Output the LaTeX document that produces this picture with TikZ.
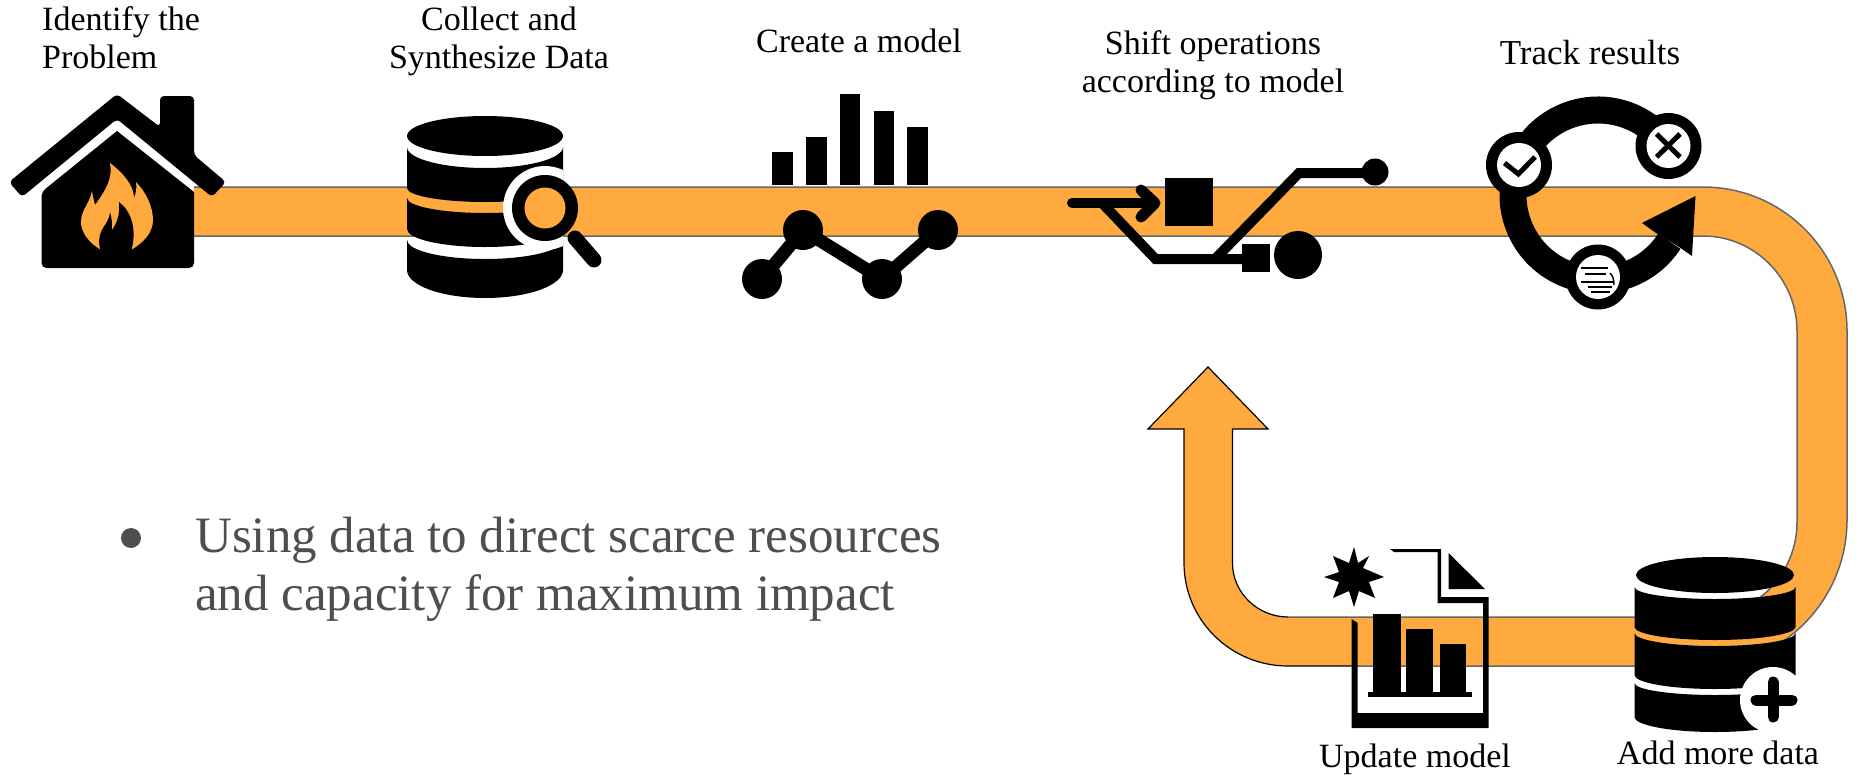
\documentclass[tikz,border=0pt]{standalone}
\usepackage{fontspec}
\setmainfont{Liberation Serif}
\definecolor{bandc}{HTML}{FFAA3F}
\definecolor{edgec}{HTML}{666666}
\definecolor{bullc}{HTML}{4E4E4E}
\newcommand{\dblayer}[6]{% cx rx ytop sagtop ybot sagbot
  \fill (#1-#2,#3) arc[start angle=180,end angle=0,x radius=#2,y radius=#4]
    -- (#1+#2,#5) arc[start angle=0,end angle=180,x radius=#2,y radius=#6] -- cycle;}
\tikzset{
  x=1pt,y=-1pt,
  lab/.style={font=\fontsize{34}{38}\selectfont,inner sep=0pt,anchor=base},
  labw/.style={lab,anchor=base west},
  body/.style={font=\fontsize{51}{58}\selectfont,inner sep=0pt,anchor=base west,text=bullc},
  iconline/.style={line width=11pt,line cap=round,line join=round},
  bandedge/.style={draw=edgec,line width=1.5pt},
  bandedgek/.style={draw=black,line width=1.2pt,line join=miter},
}
\begin{document}
\begin{tikzpicture}
\useasboundingbox (0,0) rectangle (1861,774);
% band
\fill[bandc] (194,187) -- (1703,187) .. controls (1782.5,187) and (1847,251.5) .. (1847,331)
  -- (1847,520) .. controls (1847,600) and (1782.5,666) .. (1703,666)
  -- (1288,666) .. controls (1230.6,666) and (1184,620) .. (1184,563)
  -- (1184,429) -- (1148,429) -- (1208,367) -- (1268,429) -- (1232.5,429)
  -- (1232.5,563) .. controls (1232.5,593) and (1258,617) .. (1288,617)
  -- (1703,617) .. controls (1755,617) and (1797,574) .. (1797,522)
  -- (1797,331) .. controls (1797,279) and (1755,236) .. (1703,236)
  -- (194,236) -- cycle;
\draw[bandedge] (194,187) -- (1703,187) .. controls (1782.5,187) and (1847,251.5) .. (1847,331)
  -- (1847,520) .. controls (1847,600) and (1782.5,666) .. (1703,666) -- (1351,666);
\draw[bandedge] (194,236) -- (1703,236) .. controls (1755,236) and (1797,279) .. (1797,331)
  -- (1797,522) .. controls (1797,574) and (1755,617) .. (1703,617) -- (1288,617);
\draw[bandedgek] (1351,666) -- (1288,666) .. controls (1230.6,666) and (1184,620) .. (1184,563)
  -- (1184,429) -- (1148,429) -- (1208,367) -- (1268,429) -- (1232.5,429)
  -- (1232.5,563) .. controls (1232.5,593) and (1258,617) .. (1288,617);
% house
\fill[rounded corners=4pt] (9,182) -- (22,197) -- (117,119) -- (212,197) -- (226,182) -- (194,155)
  -- (194,96) -- (160,96) -- (160,127) -- (117,94) -- cycle;
\fill[rounded corners=5pt] (41.5,192) [sharp corners] -- (117,131) -- (194,192) [rounded corners=5pt] -- (194,268) -- (41.5,268) -- cycle;
\fill[bandc] (101,250) .. controls (88,242) and (81,232) .. (81,222) .. controls (81,210) and (90,203) .. (92,191)
  .. controls (93,197) and (94,201) .. (95,205) .. controls (106,190) and (113,178) .. (110,163)
  .. controls (122,172) and (134,185) .. (134,198) .. controls (136,193) and (137,188) .. (136,182)
  .. controls (146,192) and (153,207) .. (153,220) .. controls (153,233) and (143,243) .. (131,250) -- cycle;
\fill (101,252) .. controls (97,240) and (100,232) .. (105,225) .. controls (108,220) and (110,216) .. (110,212)
  .. controls (112,218) and (112,224) .. (112,230) .. controls (118,222) and (120,212) .. (119,202)
  .. controls (130,210) and (138,228) .. (131,252) -- cycle;
% database 1
\fill (485,136) ellipse[x radius=78,y radius=20];
\dblayer{485}{78}{147}{21}{188}{14}
\dblayer{485}{78}{198}{15}{229}{18}
\dblayer{485}{78}{240}{19}{270}{28}
\begin{scope}
  \clip (407,100) rectangle (563,300);
  \fill[white] (545,208) circle[radius=42];
\end{scope}
\draw[line width=15pt,line cap=round] (575,238) -- (594,260);
\fill (545,208) circle[radius=33];
\fill[bandc] (545,208) circle[radius=20.5];
% bars and line chart
\foreach \xa/\xb/\yt in {772/793/152,806/827/137,840/860/94,874/894/111,907/928/127}
  \fill (\xa,\yt) rectangle (\xb,185);
\draw[line width=13pt,line join=round] (762,279) -- (803,230) -- (882,279) -- (938,230);
\foreach \cx/\cy in {762/279,803/230,882/279,938/230}
  \fill (\cx,\cy) circle[radius=20];
% usb style icon
\draw[line width=10pt,line cap=round,line join=round] (1072,203) -- (1155,203);
\draw[iconline] (1141,190) -- (1155,203) -- (1141,217);
\fill (1165,178) rectangle (1213,226);
\draw[line width=10pt,line join=miter] (1102,203) -- (1155.5,259) -- (1245,259);
\draw[line width=10pt,line join=miter] (1215,259) -- (1299,173) -- (1370,173);
\fill (1375,172) circle[radius=13.5];
\fill (1242,244) rectangle (1270,272);
\fill (1298,255) circle[radius=24];
% track results
\draw[line width=27pt] (1598,195) ++(201:85) arc[start angle=201,end angle=325,radius=85];
\draw[line width=27pt] (1598,195) ++(201:85) arc[start angle=201,end angle=33,radius=85];
\fill (1695.5,196) -- (1692,256) -- (1679,247) -- (1656,233) -- (1642,223) -- cycle;
\foreach \cx/\cy/\ro in {1519/165/33,1668.5/146/33,1598/277/32.5}{
  \fill (\cx,\cy) circle[radius=\ro];
  \fill[white] (\cx,\cy) circle[radius=22];
}
\draw[line width=5pt] (1504.5,163) -- (1518.4,174) -- (1535,157);
\draw[line width=5pt] (1656.6,157) -- (1680,134);
\draw[line width=5pt] (1656.6,134) -- (1680,157);
\foreach \xa/\xb/\yy in {1580.6/1607.5/268,1584.5/1606/274,1581/1614/282,1588/1612/287,1590.5/1609.5/292}
  \draw[line width=1.9pt] (\xa,\yy) -- (\xb,\yy);
\draw[line width=1.4pt] (1610,273) .. controls (1613,276) and (1614,280) .. (1614,285);
% update model document
\fill (1354,547) -- (1358,563) -- (1369,556) -- (1363,568) -- (1384,577) -- (1369,582) -- (1375,598) -- (1359,591) -- (1354,607)
  -- (1349,591) -- (1333,598) -- (1339,582) -- (1324,577) -- (1339,572) -- (1333,556) -- (1349,563) -- cycle;
\fill (1390,549) -- (1441,549) -- (1441,597) -- (1488.6,597) -- (1488.6,728) -- (1351.6,728) -- (1351.6,619)
  -- (1357.7,623) -- (1357.7,713) -- (1483,713) -- (1483,603) -- (1437.6,603) -- (1437.6,552) -- (1394,552) -- cycle;
\fill (1448.5,553) -- (1448.5,589) -- (1485,589) -- cycle;
\foreach \xa/\xb/\yt in {1373/1401/614,1406/1433/629,1439.5/1466.4/644}
  \fill (\xa,\yt) rectangle (\xb,692);
\fill (1368,692) rectangle (1472,697);
% database 2
\fill (1715,575) ellipse[x radius=79,y radius=18];
\dblayer{1715}{80.5}{587}{12}{627}{13}
\dblayer{1715}{80.5}{633}{13}{675}{14}
\dblayer{1715}{80.5}{683}{12}{717}{15}
\fill[white] (1773,700) circle[radius=33];
\draw[line width=11pt,line cap=round] (1756,700) -- (1792,700);
\draw[line width=11pt,line cap=round] (1773,682) -- (1773,717);
% labels
\node[labw] (t1a) at (42,30) {Identify the};
\node[labw] (t1b) at (42,68) {Problem};
\node[lab] (t2a) at (499,30) {Collect and};
\node[lab] (t2b) at (499,68) {Synthesize Data};
\node[lab] (t3) at (859,52) {Create a model};
\node[lab] (t4a) at (1213,54) {Shift operations};
\node[lab] (t4b) at (1213,92) {according to model};
\node[lab,font=\fontsize{35}{38}\selectfont] (t5) at (1590,64) {Track results};
\node[lab] (t6) at (1415,767) {Update model};
\node[lab] (t7) at (1718,764) {Add more data};
\fill[bullc] (131,538) circle[radius=10];
\node[body] (b1) at (195,552) {Using data to direct scarce resources};
\node[body] (b2) at (195,610) {and capacity for maximum impact};
\end{tikzpicture}
\end{document}
